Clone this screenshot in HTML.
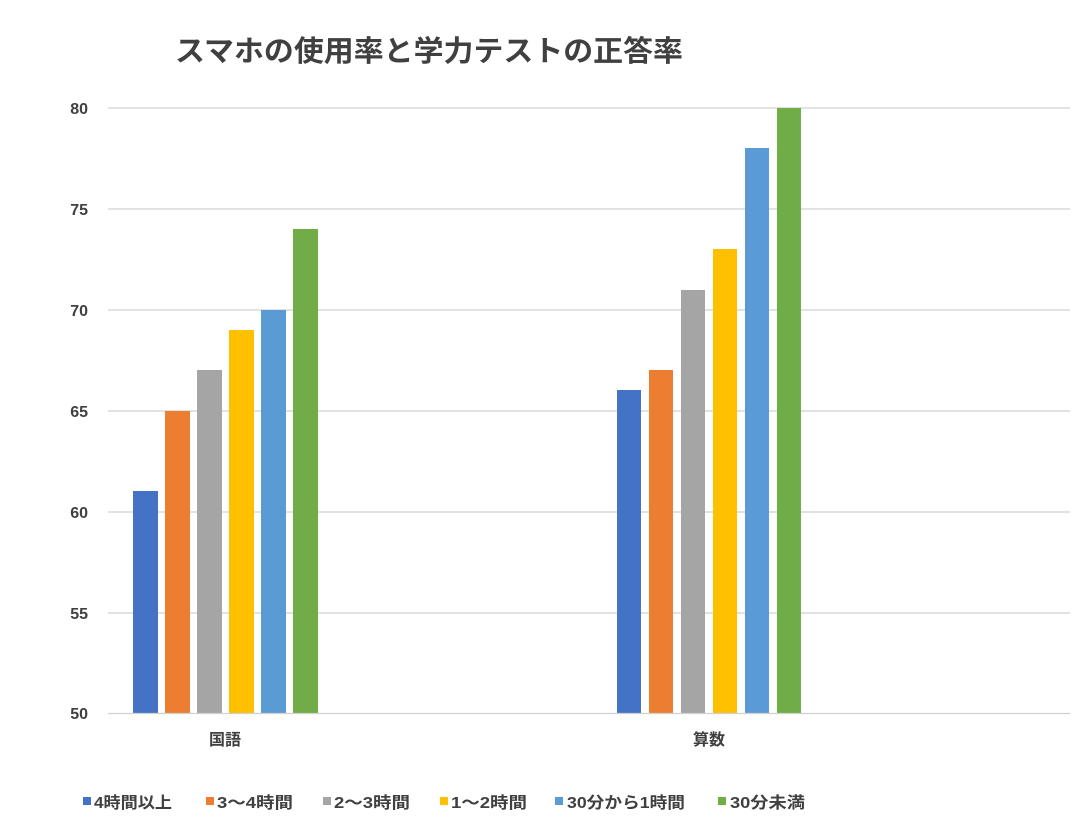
<!DOCTYPE html>
<html><head><meta charset="utf-8"><style>
html,body{margin:0;padding:0;background:#fff;}
svg{display:block;font-family:"Liberation Sans","Noto Sans CJK JP",sans-serif;}
</style></head><body>
<svg width="1077" height="836" viewBox="0 0 1077 836">
<text x="175" y="61" font-size="29" font-weight="bold" fill="#404040" textLength="508" lengthAdjust="spacingAndGlyphs">スマホの使用率と学力テストの正答率</text>
<g stroke="#d0d0d0" stroke-width="1.3">
<line x1="108" y1="108" x2="1070" y2="108"/>
<line x1="108" y1="209" x2="1070" y2="209"/>
<line x1="108" y1="310" x2="1070" y2="310"/>
<line x1="108" y1="411" x2="1070" y2="411"/>
<line x1="108" y1="512" x2="1070" y2="512"/>
<line x1="108" y1="613" x2="1070" y2="613"/>
</g>
<g font-size="16" font-weight="bold" fill="#404040" text-anchor="end">
<text x="88" y="114">80</text><text x="88" y="215">75</text><text x="88" y="316">70</text>
<text x="88" y="417">65</text><text x="88" y="518">60</text><text x="88" y="619">55</text>
<text x="88" y="719">50</text>
</g>
<g>
<rect x="133" y="491" width="25" height="222" fill="#4472c4"/>
<rect x="165" y="411" width="25" height="302" fill="#ed7d31"/>
<rect x="197" y="370" width="25" height="343" fill="#a5a5a5"/>
<rect x="229" y="330" width="25" height="383" fill="#ffc000"/>
<rect x="261" y="310" width="25" height="403" fill="#5b9bd5"/>
<rect x="293" y="229" width="25" height="484" fill="#70ad47"/>
<rect x="617" y="390" width="24" height="323" fill="#4472c4"/>
<rect x="649" y="370" width="24" height="343" fill="#ed7d31"/>
<rect x="681" y="290" width="24" height="423" fill="#a5a5a5"/>
<rect x="713" y="249" width="24" height="464" fill="#ffc000"/>
<rect x="745" y="148" width="24" height="565" fill="#5b9bd5"/>
<rect x="777" y="108" width="24" height="605" fill="#70ad47"/>
</g>
<line x1="108" y1="713.5" x2="1070" y2="713.5" stroke="#d0d0d0" stroke-width="1.3"/>
<g font-size="16" font-weight="bold" fill="#404040" text-anchor="middle">
<text x="225" y="745">国語</text><text x="709" y="745">算数</text>
</g>
<g font-size="16" font-weight="bold" fill="#404040">
<rect x="83" y="797" width="8" height="8" fill="#4472c4"/><text x="94" y="808" textLength="78" lengthAdjust="spacingAndGlyphs">4時間以上</text>
<rect x="206" y="797" width="8" height="8" fill="#ed7d31"/><text x="217" y="808" textLength="76" lengthAdjust="spacingAndGlyphs">3～4時間</text>
<rect x="323" y="797" width="8" height="8" fill="#a5a5a5"/><text x="334" y="808" textLength="76" lengthAdjust="spacingAndGlyphs">2～3時間</text>
<rect x="440" y="797" width="8" height="8" fill="#ffc000"/><text x="451" y="808" textLength="76" lengthAdjust="spacingAndGlyphs">1～2時間</text>
<rect x="555" y="797" width="8" height="8" fill="#5b9bd5"/><text x="567" y="808" textLength="118" lengthAdjust="spacingAndGlyphs">30分から1時間</text>
<rect x="718" y="797" width="8" height="8" fill="#70ad47"/><text x="730" y="808" textLength="75" lengthAdjust="spacingAndGlyphs">30分未満</text>
</g>
</svg>
</body></html>
